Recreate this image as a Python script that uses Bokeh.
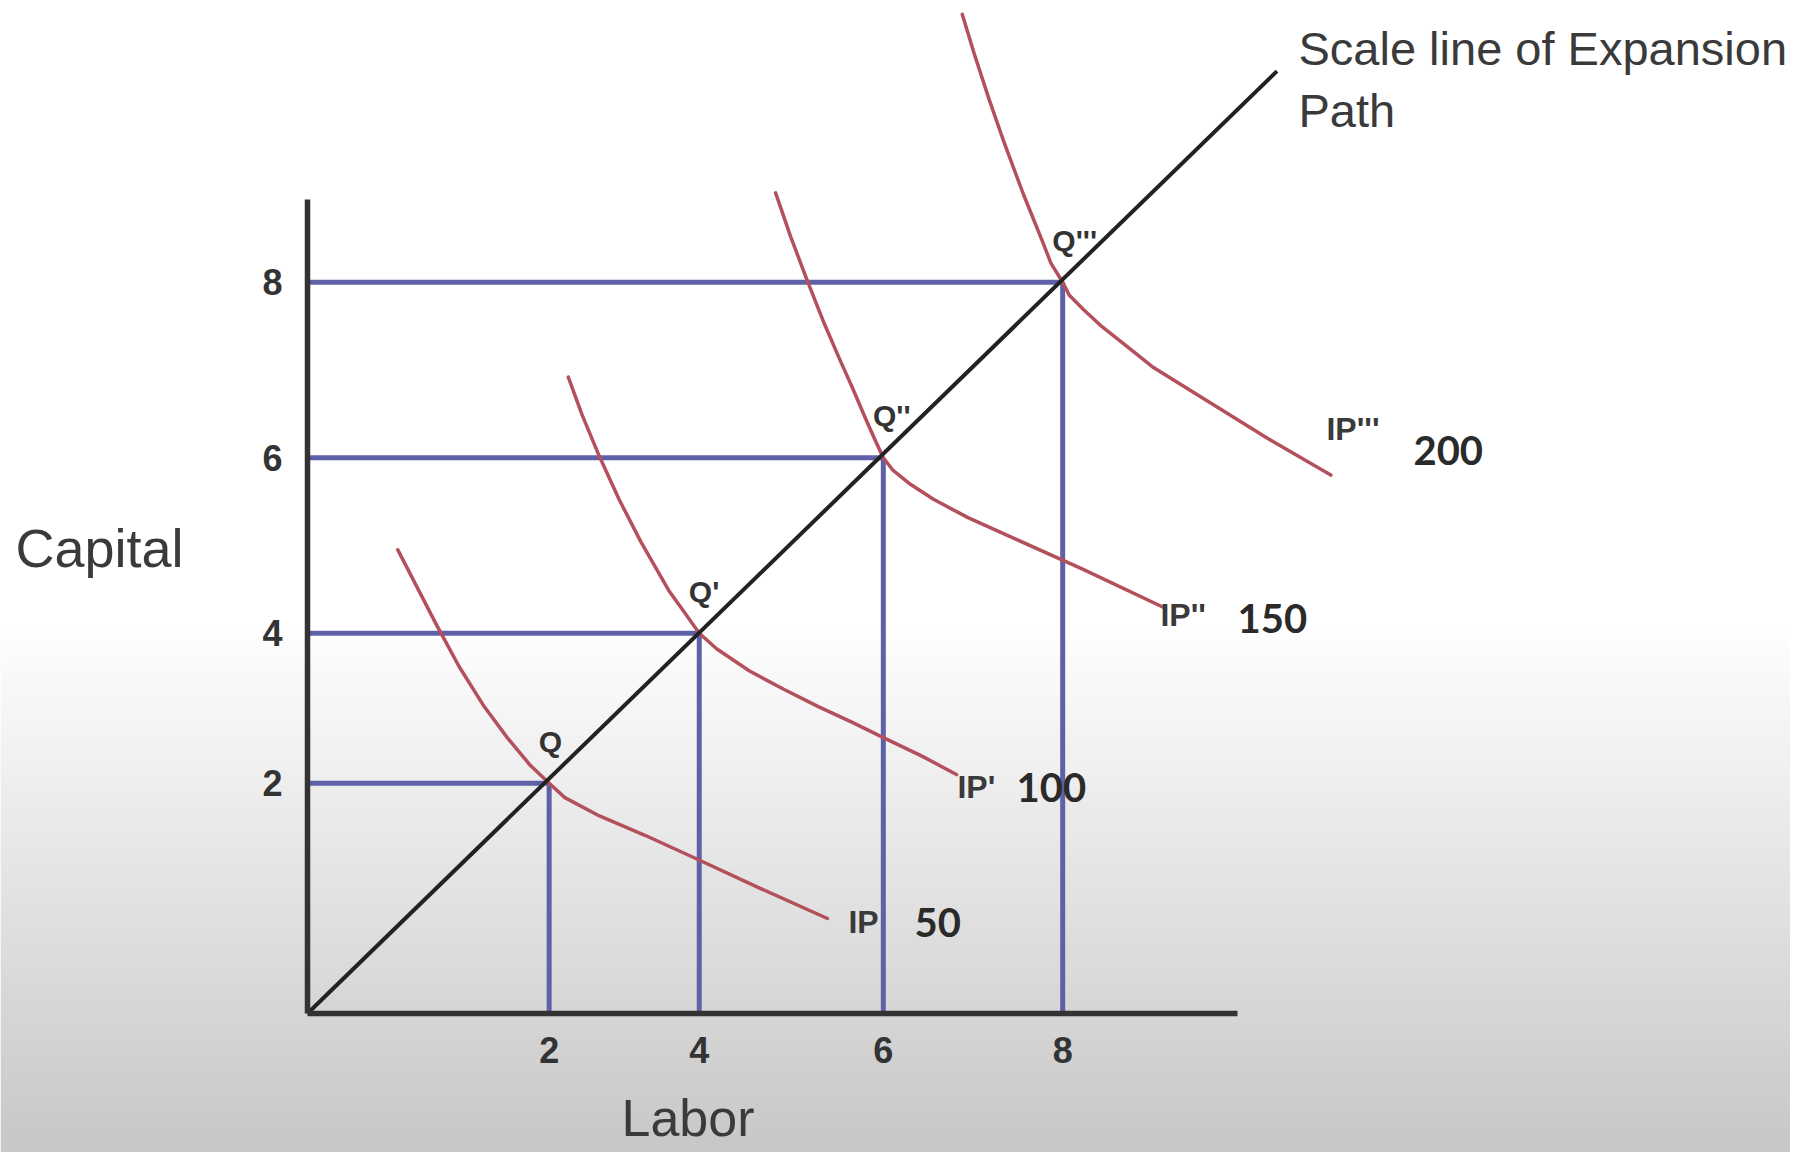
import numpy as np
from bokeh.plotting import figure
from bokeh.models import LinearAxis, FixedTicker, Range1d
from bokeh.core.properties import value
from bokeh.embed import file_html
from bokeh.resources import INLINE

# ---- data (positions as drawn in the diagram, in axis units) ----
tick_labels = ["2", "4", "6", "8"]
labor_tick_pos = [2.56, 4.15, 6.10, 8.00]
capital_tick_pos = [2.52, 4.16, 6.08, 8.00]

q_names = ["Q", "Q'", "Q''", "Q'''"]
q_labor = [2.56, 4.15, 6.10, 8.00]
q_capital = [2.52, 4.16, 6.08, 8.00]

expansion_labor = [0.0, 10.27]
expansion_capital = [0.0, 10.31]

ip50_labor = [0.957, 1.140, 1.360, 1.604, 1.872, 2.116, 2.360, 2.56, 2.726, 3.093, 3.581,
              4.142, 4.801, 5.508]
ip50_capital = [5.072, 4.706, 4.265, 3.799, 3.358, 3.018, 2.715, 2.52, 2.362, 2.161, 1.947,
                1.682, 1.367, 1.039]
ip100_labor = [2.763, 2.910, 3.093, 3.300, 3.532, 3.825, 3.983, 4.15, 4.337, 4.679, 5.045,
               5.411, 5.777, 6.10, 6.509, 6.875]
ip100_capital = [6.962, 6.546, 6.093, 5.626, 5.160, 4.631, 4.404, 4.16, 3.988, 3.749, 3.547,
                 3.358, 3.182, 3.018, 2.816, 2.614]
ip150_labor = [4.959, 5.118, 5.289, 5.472, 5.630, 5.777, 5.923, 6.021, 6.10, 6.204, 6.387,
               6.631, 6.997, 7.485, 8.217, 9.071]
ip150_capital = [8.978, 8.500, 8.033, 7.554, 7.176, 6.836, 6.483, 6.256, 6.08, 5.941, 5.790,
                 5.626, 5.425, 5.198, 4.858, 4.442]
ip200_labor = [6.936, 7.058, 7.217, 7.387, 7.583, 7.790, 7.875, 8.00, 8.071, 8.217, 8.400,
               8.644, 8.949, 9.559, 10.169, 10.840]
ip200_capital = [10.932, 10.516, 10.012, 9.508, 8.966, 8.437, 8.210, 8.00, 7.857, 7.706, 7.529,
                 7.328, 7.076, 6.685, 6.294, 5.891]

ip_names = ["IP", "IP'", "IP''", "IP'''"]
ip_values = ["50", "100", "150", "200"]
ip_name_x = [5.73, 6.885, 9.036, 10.794]
ip_name_y = [0.996, 2.473, 4.365, 6.40]
ip_value_x = [6.43, 7.511, 9.852, 11.716]
ip_value_y = [0.996, 2.473, 4.322, 6.16]

# ---- figure ----
X0, X1 = -3.252, 15.710
Y0, Y1 = -1.521, 11.083
p = figure(width=1790, height=1152, x_range=Range1d(X0, X1), y_range=Range1d(Y0, Y1),
           x_axis_location=None, y_axis_location=None, toolbar_location=None,
           output_backend="svg", min_border=0)
p.outline_line_color = None
p.background_fill_color = "white"
p.border_fill_color = "white"
for g in p.grid:
    g.visible = False

# background gradient (screen-capture shading in the lower part)
rows = 64
shade = np.linspace(200, 255, rows).astype(np.uint8)
img = np.empty((rows, 1), dtype=np.uint32)
view = img.view(dtype=np.uint8).reshape((rows, 1, 4))
view[:, 0, 0] = shade
view[:, 0, 1] = shade
view[:, 0, 2] = shade
view[:, 0, 3] = 255
p.image_rgba(image=[img], x=X0, y=Y0, dw=X1 - X0, dh=4.30 - Y0)

# blue guide lines
blue = "#5f61a8"
p.segment(x0=[0] * 4, y0=q_capital, x1=q_labor, y1=q_capital, line_color=blue, line_width=5)
p.segment(x0=q_labor, y0=q_capital, x1=q_labor, y1=[0] * 4, line_color=blue, line_width=5)

# isoquants
red = "#b4505c"
for xs, ys in [(ip50_labor, ip50_capital), (ip100_labor, ip100_capital),
               (ip150_labor, ip150_capital), (ip200_labor, ip200_capital)]:
    p.line(xs, ys, line_color=red, line_width=3.5, line_join="round", line_cap="round")

# expansion path
p.line(expansion_labor, expansion_capital, line_color="#222222", line_width=4)

# axes
xaxis = LinearAxis(fixed_location=0, bounds=(0, 9.85), ticker=FixedTicker(ticks=labor_tick_pos),
                   major_label_overrides=dict(zip(labor_tick_pos, tick_labels)))
yaxis = LinearAxis(fixed_location=0, bounds=(0, 8.906), ticker=FixedTicker(ticks=capital_tick_pos),
                   major_label_overrides=dict(zip(capital_tick_pos, tick_labels)))
for ax, so in [(xaxis, 24), (yaxis, 25)]:
    ax.axis_line_width = 5.5
    ax.axis_line_color = "#333333"
    ax.major_tick_line_color = None
    ax.minor_tick_line_color = None
    ax.major_tick_out = 0
    ax.major_tick_in = 0
    ax.major_label_standoff = so
    ax.major_label_text_font = "Liberation Sans"
    ax.major_label_text_font_style = "bold"
    ax.major_label_text_font_size = "36px"
    ax.major_label_text_color = "#333333"
p.add_layout(xaxis, "below")
p.add_layout(yaxis, "left")

txt = "#333333"
# Q labels
p.text(x=[q - 0.11 for q in q_labor], y=[c + 0.46 for c in q_capital], text=q_names,
       text_font=value("Liberation Sans"), text_font_style="bold", text_font_size="30px",
       text_color=txt, text_align="left", text_baseline="middle")

# isoquant labels
p.text(x=ip_name_x, y=ip_name_y, text=ip_names, text_font=value("Liberation Sans"),
       text_font_style="bold", text_font_size="32px", text_color="#3a3a3a",
       text_align="left", text_baseline="middle")
p.text(x=ip_value_x, y=ip_value_y, text=ip_values, text_font=value("Lato"),
       text_font_style="bold", text_font_size="40px", text_color="#2a2a2a",
       text_align="left", text_baseline="middle")

# axis titles and path label
p.text(x=[-3.093], y=[5.098], text=["Capital"], text_font=value("Liberation Sans"),
       text_font_size="54px", text_color="#3a3a3a", text_align="left", text_baseline="middle")
p.text(x=[3.326], y=[-1.149], text=["Labor"], text_font=value("Liberation Sans"),
       text_font_size="52px", text_color="#3a3a3a", text_align="left", text_baseline="middle")
p.text(x=[10.498, 10.498], y=[10.563, 9.880], text=["Scale line of Expansion", "Path"],
       text_font=value("Liberation Sans"), text_font_size="47px", text_color="#3a3a3a",
       text_align="left", text_baseline="middle")

open("out.html", "w").write(file_html(p, INLINE))
